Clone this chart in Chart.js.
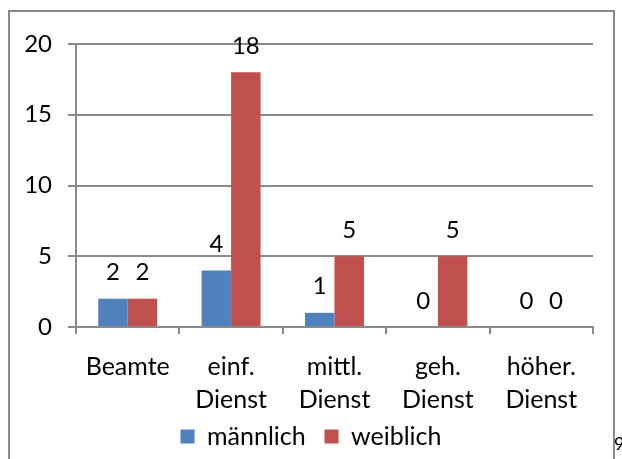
<!DOCTYPE html>
<html>
<head>
<meta charset="utf-8">
<script src="https://cdn.jsdelivr.net/npm/chart.js@4/dist/chart.umd.min.js"></script>
<style>
  html, body { margin: 0; padding: 0; background: #fff; overflow: hidden; }
  #wrap { position: relative; width: 622px; height: 459px; }
  #chart { position: absolute; left: 0; top: 0; }
  #frame {
    position: absolute; left: 8px; top: 10px; width: 603px; height: 470px;
    border: 2px solid #888; pointer-events: none;
  }
  #pageno {
    position: absolute; left: 614px; top: 432px;
    font: 18px Lato, sans-serif; color: #000;
  }
</style>
</head>
<body>
<div id="wrap">
  <canvas id="chart" width="622" height="459"></canvas>
  <div id="frame"></div>
  <div id="pageno">9</div>
</div>
<script>
// categories and values
const categories = [['Beamte'], ['einf.', 'Dienst'], ['mittl.', 'Dienst'], ['geh.', 'Dienst'], ['höher.', 'Dienst']];
const maleValues = [2, 4, 1, 0, 0];
const femaleValues = [2, 18, 5, 5, 0];
const yTicks = [0, 5, 10, 15, 20];

const gridGray = '#8a8a8a';
const fontFamily = 'Lato, "Open Sans", sans-serif';

// Value labels above each bar
const valueLabels = {
  id: 'valueLabels',
  afterDatasetsDraw(chart) {
    const ctx = chart.ctx;
    ctx.save();
    ctx.font = '24px ' + fontFamily;
    ctx.fillStyle = '#000';
    ctx.textAlign = 'center';
    ctx.textBaseline = 'alphabetic';
    chart.data.datasets.forEach((ds, i) => {
      chart.getDatasetMeta(i).data.forEach((bar, j) => {
        ctx.fillText(String(ds.data[j]), bar.x, bar.y - 18.5);
      });
    });
    ctx.restore();
  }
};

new Chart(document.getElementById('chart').getContext('2d'), {
  type: 'bar',
  data: {
    labels: categories,
    datasets: [{
      label: 'männlich',
      data: maleValues,
      backgroundColor: '#4F81BD',
      borderWidth: 0
    }, {
      label: 'weiblich',
      data: femaleValues,
      backgroundColor: '#C0504D',
      borderWidth: 0
    }]
  },
  options: {
    responsive: false,
    animation: false,
    categoryPercentage: 0.57,
    barPercentage: 1,
    layout: { padding: { left: 0, right: 0, top: 44, bottom: 0 } },
    plugins: {
      tooltip: { enabled: false },
      legend: {
        position: 'bottom',
        labels: {
          font: { family: fontFamily, size: 25 },
          color: '#000',
          boxWidth: 14,
          boxHeight: 14,
          padding: 6,
          generateLabels(chart) {
            const items = Chart.defaults.plugins.legend.labels.generateLabels(chart);
            items[0].text += '  ';
            return items;
          }
        }
      }
    },
    scales: {
      x: {
        afterFit(scale) { scale.height = 91; },
        grid: {
          offset: true,
          drawOnChartArea: false,
          drawTicks: true,
          tickLength: 7,
          color: gridGray,
          lineWidth: 2
        },
        border: { display: true, color: gridGray, width: 2 },
        ticks: {
          font: { family: fontFamily, size: 25, lineHeight: 1.32 },
          color: '#000',
          padding: 16,
          maxRotation: 0,
          autoSkip: false
        }
      },
      y: {
        min: 0,
        max: 20,
        afterFit(scale) { scale.width = 76; },
        afterBuildTicks(scale) { scale.ticks = yTicks.map(v => ({ value: v })); },
        grid: {
          color: gridGray,
          lineWidth: 2,
          tickLength: 8
        },
        border: { display: true, color: gridGray, width: 2 },
        ticks: {
          font: { family: fontFamily, size: 24 },
          color: '#000',
          padding: 16
        }
      },
      // empty right-hand spacer so the legend stays centred on the page
      yRight: {
        position: 'right',
        min: 0,
        max: 20,
        afterFit(scale) { scale.width = 29; },
        grid: { drawOnChartArea: false, drawTicks: false },
        border: { display: false },
        ticks: { display: false }
      }
    }
  },
  plugins: [valueLabels]
});
</script>
</body>
</html>
